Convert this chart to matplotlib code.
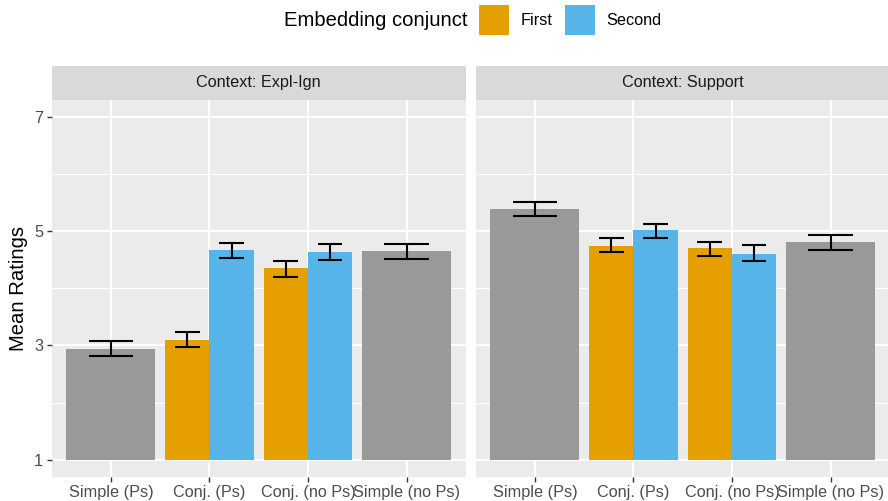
import numpy as np
import matplotlib
matplotlib.use("Agg")
from matplotlib import pyplot as plt
from matplotlib.patches import Rectangle

plt.rcParams['font.family'] = ['Liberation Sans', 'DejaVu Sans']

# Data (means with lower / upper error bar ends)
contexts = ["Expl-Ign", "Support"]
conditions = ["Simple (Ps)", "Conj. (Ps)", "Conj. (no Ps)", "Simple (no Ps)"]

row_context = ["Expl-Ign"] * 6 + ["Support"] * 6
row_condition = ["Simple (Ps)", "Conj. (Ps)", "Conj. (Ps)",
                 "Conj. (no Ps)", "Conj. (no Ps)", "Simple (no Ps)"] * 2
row_conjunct = ["None", "First", "Second", "First", "Second", "None"] * 2
row_mean = [2.93, 3.10, 4.67, 4.35, 4.63, 4.65,
            5.39, 4.75, 5.02, 4.70, 4.61, 4.81]
row_low = [2.81, 2.98, 4.54, 4.20, 4.50, 4.51,
           5.27, 4.64, 4.88, 4.56, 4.48, 4.67]
row_high = [3.07, 3.23, 4.79, 4.48, 4.77, 4.78,
            5.51, 4.88, 5.13, 4.82, 4.76, 4.94]

conjunct_colors = {"None": "#999999", "First": "#E69F00", "Second": "#56B4E9"}
legend_labels = ["First", "Second"]

W, H = 888, 501
fig = plt.figure(figsize=(W / 100, H / 100), dpi=100)


def fx(px):
    return px / W


def fy(py):
    return 1 - py / H


tick_fs = 11.7
title_fs = 14.6

panel_w = 414
panel_top, panel_bot = 100, 476.7
strip_top = 66
panel_left = [51.7, 475.7]

for i, ctx in enumerate(contexts):
    ax = fig.add_axes([fx(panel_left[i]), fy(panel_bot),
                       fx(panel_w), (panel_bot - panel_top) / H])
    ax.set_facecolor("#EBEBEB")
    for s in ax.spines.values():
        s.set_visible(False)

    idx = [k for k in range(len(row_context)) if row_context[k] == ctx]
    for k in idx:
        c = conditions.index(row_condition[k])
        conj = row_conjunct[k]
        if conj == "None":
            x, w, cap = c, 0.9, 0.45
        else:
            x = c - 0.225 if conj == "First" else c + 0.225
            w, cap = 0.45, 0.25
        ax.bar(x, row_mean[k] - 1, width=w, bottom=1,
               color=conjunct_colors[conj], zorder=2)
        ax.vlines(x, row_low[k], row_high[k], color="black", lw=1.5, zorder=3)
        ax.hlines([row_low[k], row_high[k]], x - cap / 2, x + cap / 2,
                  color="black", lw=1.5, zorder=3)

    ax.set_xlim(-0.6, 3.6)
    ax.set_ylim(0.7, 7.3)
    ax.set_xticks(range(len(conditions)))
    ax.set_xticklabels(conditions)
    ax.set_yticks([1, 3, 5, 7])
    ax.set_yticks([2, 4, 6], minor=True)
    ax.grid(True, which="major", color="white", lw=1.45, zorder=0)
    ax.grid(True, which="minor", axis="y", color="white", lw=0.75, zorder=0)
    ax.set_axisbelow(True)
    ax.tick_params(axis="both", which="major", length=3.7, width=1.0,
                   color="#333333", labelsize=tick_fs, labelcolor="#4D4D4D",
                   pad=2.5)
    ax.tick_params(axis="y", which="minor", length=0)
    if i == 0:
        ax.set_ylabel("Mean Ratings", fontsize=title_fs, labelpad=4)
    else:
        ax.tick_params(axis="y", which="both", left=False, labelleft=False)

    # facet strip
    sax = fig.add_axes([fx(panel_left[i]), fy(panel_top),
                        fx(panel_w), (panel_top - strip_top) / H])
    sax.set_facecolor("#D9D9D9")
    sax.set_xticks([])
    sax.set_yticks([])
    for s in sax.spines.values():
        s.set_visible(False)
    sax.text(0.5, 0.5, "Context: " + ctx, ha="center", va="center",
             fontsize=tick_fs, color="#1A1A1A", transform=sax.transAxes)

# legend at the top
fig.text(fx(467.7), fy(20.5), "Embedding conjunct", ha="right", va="center",
         fontsize=title_fs, color="black")
sw_left = [479, 565]
txt_left = [521, 606.7]
for j, lab in enumerate(legend_labels):
    fig.add_artist(Rectangle((fx(sw_left[j]), fy(35)), fx(30), 30 / H,
                             transform=fig.transFigure,
                             facecolor=conjunct_colors[lab], edgecolor="none"))
    fig.text(fx(txt_left[j]), fy(20.5), lab, ha="left", va="center",
             fontsize=tick_fs, color="black")

fig.savefig("out.png", dpi=100)
